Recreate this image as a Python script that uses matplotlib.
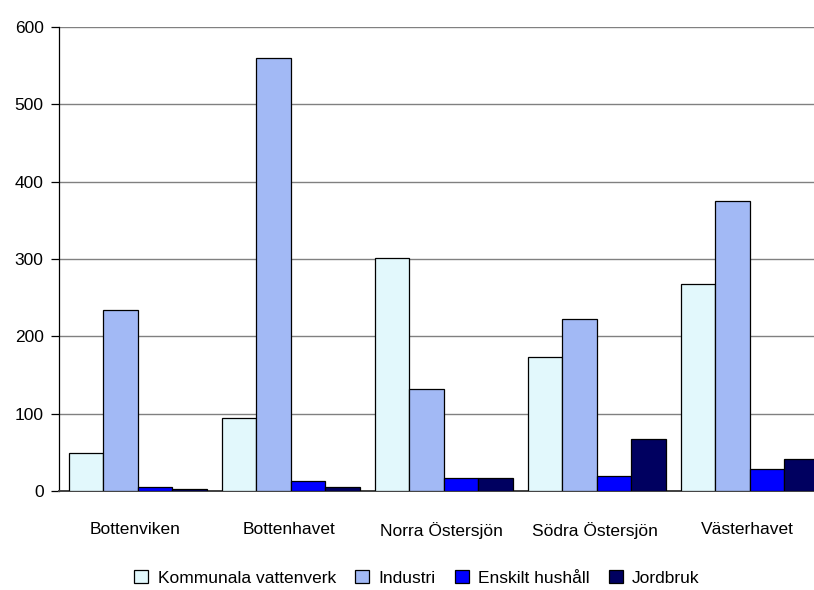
import matplotlib.pyplot as plt
import numpy as np

plt.rcParams['font.family'] = ['Liberation Sans', 'DejaVu Sans']

# Havsområden och belastning per källa
omraden = ['Bottenviken', 'Bottenhavet', 'Norra Östersjön', 'Södra Östersjön', 'Västerhavet']
kommunala = [49, 95, 301, 173, 268]
industri = [234, 560, 132, 222, 375]
enskilt = [5, 13, 17, 20, 28]
jordbruk = [2, 5, 17, 67, 41]

serier = [
    ('Kommunala vattenverk', kommunala, '#E2F8FC'),
    ('Industri', industri, '#A2B9F5'),
    ('Enskilt hushåll', enskilt, '#0000FF'),
    ('Jordbruk', jordbruk, '#000060'),
]

fig = plt.figure(figsize=(8.14, 5.9), dpi=100)
# axeln går något utanför figurens högra kant
ax = fig.add_axes([59 / 814, 1 - 491 / 590, 765 / 814, (491 - 27) / 590])

x = np.arange(len(omraden))
bredd = 0.2255
for i, (namn, varden, farg) in enumerate(serier):
    ax.bar(x + (i - 1.5) * bredd + 0.016, varden, bredd, color=farg,
           edgecolor='black', linewidth=0.9, label=namn, zorder=3)

ax.set_xlim(-0.5, 4.5)
ax.set_ylim(0, 600)
ax.set_yticks(range(0, 601, 100))
ax.yaxis.grid(True, color='#808080', linewidth=1.0, zorder=0)
ax.tick_params(axis='y', labelsize=12.5, length=6, width=0.9, pad=5)
ax.tick_params(axis='x', labelsize=12.5, length=0, pad=22)
ax.set_xticks(x)
ax.set_xticklabels(omraden)

for s in ['top', 'right']:
    ax.spines[s].set_visible(False)
ax.spines['left'].set_linewidth(0.9)
ax.spines['bottom'].set_color('#404040')
ax.spines['bottom'].set_linewidth(1.4)

fig.legend(loc='center', bbox_to_anchor=(417 / 814, 1 - 578 / 590), ncol=4,
           frameon=False, fontsize=12.5, handlelength=0.8, handleheight=0.8,
           handletextpad=0.55, columnspacing=1.1, borderpad=0.1)

fig.savefig('out.png', dpi=100)
